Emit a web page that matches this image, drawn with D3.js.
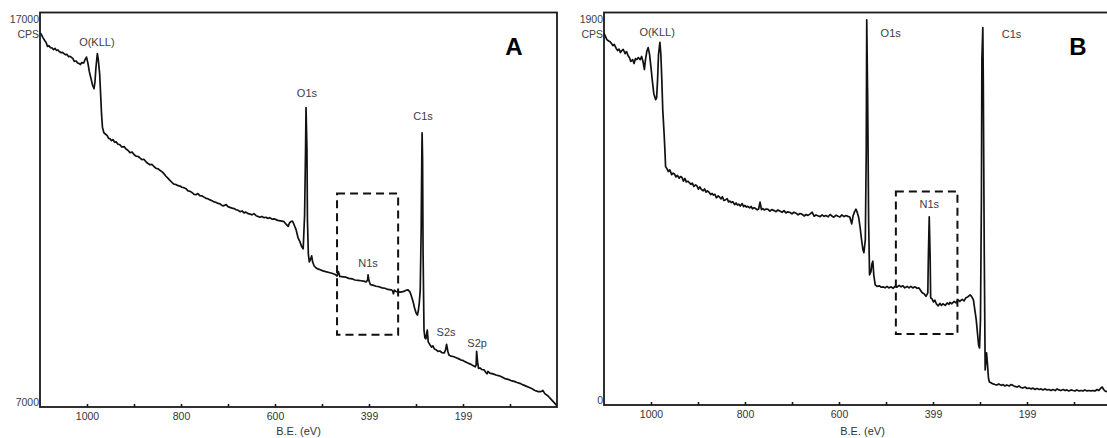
<!DOCTYPE html>
<html>
<head>
<meta charset="utf-8">
<script src="https://cdn.jsdelivr.net/npm/d3@7"></script>
<style>
  body { margin: 0; background: #fff; }
  svg { display: block; }
  text { font-family: "Liberation Sans", Arial, sans-serif; }
</style>
</head>
<body>
<svg id="chart" width="1107" height="438"></svg>
<script>
// ---- Survey spectrum A: binding energy (eV) and intensity (CPS) ----
const beA = [1100,1097,1094,1090,1087,1084,1081,1078,1074,1071,1068,1065,1062,1059,1055,1052,1049,1046,1043,1039,
  1036,1033,1030,1027,1023,1020,1017,1014,1011,1007,1004,1001,998,995,991,988,985,983,981,978,
  976,973,971,969,967,964,961,957,954,951,948,945,941,938,934,930,926,921,917,913,
  909,904,900,896,891,887,883,879,874,870,866,862,857,853,849,845,840,836,832,828,
  823,819,815,811,806,802,798,794,789,785,781,777,772,768,764,760,755,751,747,743,
  738,734,730,726,721,717,713,709,704,700,696,691,687,683,679,674,670,666,662,657,
  653,649,645,640,636,632,628,623,619,615,611,606,602,598,594,589,585,581,577,572,
  569,566,563,560,555,551,547,543,540,537,535,534,532,531,529,527,524,522,520,517,
  513,509,504,498,492,485,479,472,468,465,462,455,449,443,436,430,423,417,411,406,
  403,402,400,397,392,385,379,372,366,360,353,350,348,346,343,338,334,330,326,321,
  317,313,310,306,303,300,297,295,293,291,289,287.5,287,286,285,283,281,279,277,276,
  274,270,267,264,261,257,253,249,245,240,237,235,232,230,226,221,217,213,209,204,
  200,196,192,187,183,179,174,172,171,169,167,164,160,155,152,149,147,143,136,130,
  123,117,111,104,98,91,85,79,72,66,60,53,47,40,34,30,26,19,13,6,0];
const cpsA = [16490,16440,16370,16290,16240,16140,16160,16110,16100,16060,16090,16040,16050,16010,15980,15990,15960,15930,15940,15880,
  15890,15860,15830,15760,15770,15720,15710,15680,15730,15720,15810,15870,15710,15500,15300,15150,15070,15250,15600,15960,
  15810,15430,14920,14410,14080,13950,13920,13880,13810,13800,13750,13780,13710,13720,13660,13650,13590,13600,13540,13510,
  13450,13460,13400,13360,13350,13310,13270,13280,13210,13170,13140,13150,13090,13050,13040,13000,12960,12910,12850,12800,
  12740,12690,12650,12640,12610,12600,12570,12560,12530,12480,12470,12440,12390,12380,12410,12360,12350,12320,12290,12280,
  12250,12230,12200,12190,12160,12150,12110,12100,12130,12080,12060,12040,12030,12000,11990,11950,11970,11920,11940,11900,
  11890,11870,11900,11850,11830,11810,11830,11800,11810,11780,11800,11760,11770,11750,11730,11720,11710,11700,11640,11580,
  11670,11700,11710,11640,11490,11290,11190,11060,11010,11870,13520,14590,13520,11750,10860,10680,10760,10830,10680,10580,
  10530,10500,10480,10450,10430,10410,10390,10360,10320,10430,10310,10300,10290,10260,10250,10220,10210,10200,10190,10170,
  10220,10350,10200,10100,10090,10060,10050,10020,10010,9980,9970,9950,9870,9960,9930,9920,9910,9920,9930,9960,
  9970,9920,9820,9660,9510,9390,9330,9440,9640,9970,11490,13520,13950,13270,10980,8950,8750,8730,8880,8950,
  8650,8570,8520,8550,8470,8450,8410,8420,8380,8370,8450,8590,8400,8320,8290,8280,8260,8240,8220,8190,
  8180,8150,8130,8100,8080,8050,8020,8070,8410,8140,7980,7990,7950,7940,7890,7840,7900,7860,7840,7810,
  7790,7760,7720,7700,7670,7650,7620,7600,7560,7530,7500,7460,7420,7390,7390,7420,7340,7280,7200,7110,7030];

// ---- Survey spectrum B ----
const beB = [1100,1097,1094,1090,1087,1084,1081,1078,1074,1071,1068,1065,1062,1059,1055,1052,1049,1046,1043,1039,
  1036,1033,1030,1027,1023,1020,1017,1014,1012,1009,1006,1003,1000,997,994,990,988,986,984,981,
  979,977,975,972,970,969,966,963,960,956,953,950,947,944,940,937,934,931,928,925,
  921,918,915,912,909,905,902,899,896,893,889,886,883,880,877,873,870,867,864,861,
  857,854,851,848,845,841,838,835,832,829,826,822,819,816,813,810,806,803,800,797,
  794,790,787,784,781,778,774,771,768,765,762,759,755,751,747,743,738,734,730,726,
  721,717,713,709,704,700,696,691,687,683,679,674,670,666,662,657,653,649,645,640,
  636,632,628,623,619,615,611,606,602,598,594,589,585,581,577,573,570,567,564,561,
  558,555,552,549,547,544,542,541,539,537,535,532,530,528,526,523,519,514,510,506,
  502,498,494,489,485,481,477,472,468,464,460,455,451,447,443,438,434,430,427,423,
  419,415,411,410,408,406,405,402,399,396,393,389,385,382,379,374,370,366,364,360,
  355,351,347,343,338,334,330,326,321,318,314,311,308,305,303,301,299,297,296,294,
  293,291,289,287,286,284,282,280,276,272,268,264,260,255,251,247,243,238,234,230,
  226,221,217,213,209,204,200,196,191,187,183,179,174,170,166,162,157,153,149,145,
  140,136,132,128,123,119,115,111,106,102,98,94,89,85,81,77,72,68,64,60,
  55,51,47,43,40,37,34,30,24,13];
const cpsB = [1800,1784,1769,1762,1758,1750,1740,1745,1726,1716,1723,1706,1716,1721,1701,1711,1692,1682,1663,1672,
  1653,1677,1672,1682,1672,1687,1663,1624,1667,1711,1730,1696,1633,1566,1507,1478,1488,1575,1696,1755,
  1696,1575,1430,1309,1212,1154,1144,1130,1138,1115,1122,1118,1104,1112,1098,1106,1101,1084,1097,1080,
  1083,1075,1068,1074,1058,1066,1060,1045,1056,1044,1037,1046,1030,1036,1031,1019,1024,1016,1020,1003,
  1012,1006,998,1008,990,994,999,983,987,980,984,970,978,968,972,963,975,960,966,958,
  962,954,961,950,955,952,945,949,982,946,951,944,949,947,938,946,941,936,944,939,
  933,941,930,935,932,925,933,928,920,927,924,915,922,918,924,933,914,920,916,912,
  920,913,917,911,922,915,909,919,914,910,920,912,917,913,910,877,916,935,948,931,
  906,858,800,751,737,800,1236,1865,1478,897,630,645,683,696,630,582,574,577,570,572,
  567,574,567,572,565,574,570,579,572,577,567,574,567,574,567,572,565,567,557,543,
  538,526,543,703,911,703,519,514,499,507,490,480,492,482,490,482,494,487,497,490,
  502,494,509,502,511,504,519,523,533,526,509,460,412,339,291,276,412,994,1672,1827,
  1575,751,170,233,252,194,131,111,107,102,99,97,102,95,99,92,97,92,99,95,
  90,87,92,85,82,87,80,82,78,82,75,80,75,78,73,78,73,75,70,75,
  70,78,73,70,75,70,73,68,73,70,68,73,68,70,68,73,68,70,68,70,
  68,75,70,82,87,75,68,65,68,65];

// ---- Axis ticks ----
const energyTicks = [1000, 800, 600, 400, 200];
const energyTickLabels = ["1000", "800", "600", "399", "199"];
const energyMinorTicks = [900, 700, 500, 300, 100];

// ---- Peak annotations (binding energy, intensity) ----
const peaksA = [
  { name: "O(KLL)", be: 979, cps: 16260 },
  { name: "O1s", be: 532, cps: 14960 },
  { name: "C1s", be: 285, cps: 14370 },
  { name: "N1s", be: 402, cps: 10650 },
  { name: "S2s", be: 236, cps: 8910 },
  { name: "S2p", be: 170, cps: 8630 }
];
const peaksB = [
  { name: "O(KLL)", be: 987, cps: 1806 },
  { name: "O1s", be: 490, cps: 1802 },
  { name: "C1s", be: 233, cps: 1793 },
  { name: "N1s", be: 408, cps: 974 }
];

// N1s region highlight boxes [be from, be to], [cps top, cps bottom]
const boxA = { be: [468, 338], cps: [12410, 8830] };
const boxB = { be: [479, 348], cps: [1034, 344] };

const panels = [
  { letter: "A", be: beA, cps: cpsA, yDomain: [7000, 17000], yTopLabel: "17000", yBottomLabel: "7000",
    peaks: peaksA, box: boxA, left: 40, bottom: 407 },
  { letter: "B", be: beB, cps: cpsB, yDomain: [0, 1900], yTopLabel: "1900", yBottomLabel: "0",
    peaks: peaksB, box: boxB, left: 604, bottom: 405 }
];

const svg = d3.select("#chart");
const plotTop = 12.5, plotW = 517;
const labelColor = "#3c3c46";

panels.forEach(p => {
  const x = d3.scaleLinear().domain([1100, 0]).range([p.left, p.left + plotW]);
  const y = d3.scaleLinear().domain(p.yDomain).range([p.bottom, plotTop]);
  const g = svg.append("g");

  // spectrum trace
  const pts = p.be.map((b, i) => ({ be: b, cps: p.cps[i] }));
  g.append("path")
    .datum(pts)
    .attr("fill", "none")
    .attr("stroke", "#111")
    .attr("stroke-width", 1.7)
    .attr("stroke-linejoin", "round")
    .attr("d", d3.line().x(d => x(d.be)).y(d => y(d.cps)));

  // frame
  g.append("rect")
    .attr("x", x(1100)).attr("y", y(p.yDomain[1]))
    .attr("width", x(0) - x(1100)).attr("height", y(p.yDomain[0]) - y(p.yDomain[1]))
    .attr("fill", "none").attr("stroke", "#1a1a1a").attr("stroke-width", 1.8);

  // x axis: labelled ticks and minor ticks
  const axis = d3.axisBottom(x)
    .tickValues(energyTicks)
    .tickFormat((d, i) => energyTickLabels[i])
    .tickSizeInner(-3).tickSizeOuter(0).tickPadding(6);
  const ax = g.append("g").attr("transform", `translate(0,${p.bottom})`).call(axis);
  ax.select(".domain").remove();
  ax.selectAll("line").attr("stroke", "#1a1a1a").attr("stroke-width", 1.6);
  ax.selectAll("text").attr("font-size", 10.5).attr("fill", "#333")
    .style("font-family", "'Liberation Sans', Arial, sans-serif");

  const minor = d3.axisBottom(x).tickValues(energyMinorTicks).tickFormat("")
    .tickSizeInner(-3).tickSizeOuter(0);
  const mx = g.append("g").attr("transform", `translate(0,${p.bottom})`).call(minor);
  mx.select(".domain").remove();
  mx.selectAll("line").attr("stroke", "#1a1a1a").attr("stroke-width", 1.6);

  // axis captions
  g.append("text").attr("x", (x(1100) + x(0)) / 2).attr("y", 431).attr("dy", "0.35em")
    .attr("text-anchor", "middle").attr("font-size", 11).attr("fill", "#333").text("B.E. (eV)");
  g.append("text").attr("x", p.left - 1).attr("y", plotTop + 6.5).attr("dy", "0.35em")
    .attr("text-anchor", "end").attr("font-size", 10.5).attr("fill", labelColor).text(p.yTopLabel);
  g.append("text").attr("x", p.left - 1).attr("y", plotTop + 22).attr("dy", "0.35em")
    .attr("text-anchor", "end").attr("font-size", 10.5).attr("fill", labelColor).text("CPS");
  g.append("text").attr("x", p.left - 1).attr("y", y(p.yDomain[0]) - 5).attr("dy", "0.35em")
    .attr("text-anchor", "end").attr("font-size", 10.5).attr("fill", labelColor).text(p.yBottomLabel);

  // dashed highlight box
  g.append("rect")
    .attr("x", x(p.box.be[0])).attr("y", y(p.box.cps[0]))
    .attr("width", x(p.box.be[1]) - x(p.box.be[0]))
    .attr("height", y(p.box.cps[1]) - y(p.box.cps[0]))
    .attr("fill", "none").attr("stroke", "#111").attr("stroke-width", 2)
    .attr("stroke-dasharray", "8,5");

  // peak labels
  g.selectAll("text.peak").data(p.peaks).enter().append("text")
    .attr("class", "peak")
    .attr("x", d => x(d.be)).attr("y", d => y(d.cps)).attr("dy", "0.35em")
    .attr("text-anchor", "middle").attr("font-size", 11).attr("fill", labelColor)
    .text(d => d.name);

  // panel letter
  g.append("text").attr("x", p.left + 474).attr("y", 47).attr("dy", "0.35em")
    .attr("text-anchor", "middle").attr("font-size", 24).attr("font-weight", "bold")
    .attr("fill", "#000").text(p.letter);
});
</script>
</body>
</html>
